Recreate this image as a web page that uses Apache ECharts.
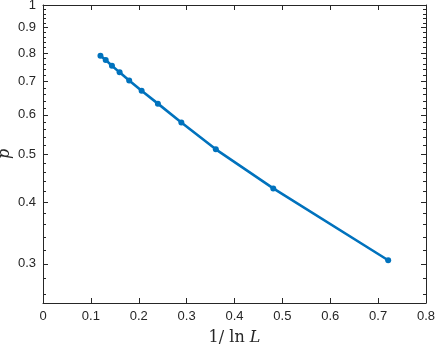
<!DOCTYPE html>
<html>
<head>
<meta charset="utf-8">
<script src="https://cdn.jsdelivr.net/npm/echarts@6/dist/echarts.min.js"></script>
<style>
  html, body { margin: 0; padding: 0; background: #fff; }
  #chart { width: 436px; height: 348px; }
</style>
</head>
<body>
<div id="chart"></div>
<script>
// 1/ln L for L = 4 ... 4096
var invLnL = [0.721, 0.481, 0.361, 0.289, 0.240, 0.206, 0.180, 0.160, 0.144, 0.131, 0.120];
var pValues = [0.305, 0.426, 0.511, 0.579, 0.632, 0.671, 0.704, 0.731, 0.754, 0.774, 0.790];

var yMajorTicks = [0.3, 0.4, 0.5, 0.6, 0.7, 0.8, 0.9, 1];
var yMinorTicks = [0.26, 0.28, 0.32, 0.34, 0.36, 0.38, 0.42, 0.44, 0.46, 0.48,
	0.52, 0.54, 0.56, 0.58, 0.62, 0.64, 0.66, 0.68, 0.72, 0.74, 0.76, 0.78,
	0.82, 0.84, 0.86, 0.88, 0.92, 0.94, 0.96, 0.98];

var axisColor = '#262626';
var lineBlue = '#0072BD';

var chart = echarts.init(document.getElementById('chart'));

function xAxisOf(pos, showLabels) {
	return {
		type: 'value',
		position: pos,
		min: 0,
		max: 0.8,
		interval: 0.1,
		axisLine: {show: true, onZero: false, lineStyle: {color: axisColor, width: 1}},
		axisTick: {show: true, inside: true, length: 5, lineStyle: {color: axisColor}},
		axisLabel: {
			show: showLabels,
			color: axisColor,
			fontFamily: 'Liberation Sans',
			fontSize: 13,
			margin: 7
		},
		splitLine: {show: false},
		name: showLabels ? '{n|1/ ln }{l|L}' : '',
		nameLocation: 'middle',
		nameGap: 27,
		nameMoveOverlap: false,
		nameTextStyle: {
			rich: {
				n: {fontFamily: 'DejaVu Serif', fontSize: 16, color: axisColor},
				l: {fontFamily: 'DejaVu Serif', fontStyle: 'italic', fontSize: 16, color: axisColor}
			}
		}
	};
}

function yAxisOf(pos, ticks, len, showLine, showLabels) {
	return {
		type: 'log',
		logBase: 10,
		position: pos,
		min: 0.25,
		max: 1,
		axisLine: {show: showLine, onZero: false, lineStyle: {color: axisColor, width: 1}},
		axisTick: {show: true, inside: true, length: len, customValues: ticks, lineStyle: {color: axisColor}},
		axisLabel: {
			show: showLabels,
			customValues: ticks,
			color: axisColor,
			fontFamily: 'Liberation Sans',
			fontSize: 13,
			margin: 7
		},
		splitLine: {show: false},
		minorTick: {show: false},
		name: showLabels ? 'p' : '',
		nameLocation: 'middle',
		nameGap: 30,
		nameMoveOverlap: false,
		nameTextStyle: {fontFamily: 'DejaVu Serif', fontStyle: 'italic', fontSize: 16, color: axisColor}
	};
}

chart.setOption({
	animation: false,
	backgroundColor: '#fff',
	grid: {left: 43, right: 10, top: 5, bottom: 45, containLabel: false, outerBoundsMode: 'none'},
	xAxis: [
		xAxisOf('bottom', true),
		xAxisOf('top', false)
	],
	yAxis: [
		yAxisOf('left', yMajorTicks, 5, true, true),
		yAxisOf('left', yMinorTicks, 3, false, false),
		yAxisOf('right', yMajorTicks, 5, true, false),
		yAxisOf('right', yMinorTicks, 3, false, false)
	],
	series: [
		{
			name: 'p',
			type: 'line',
			xAxisIndex: 0,
			yAxisIndex: 0,
			data: invLnL.map(function (x, i) { return [x, pValues[i]]; }),
			symbol: 'circle',
			symbolSize: 6,
			lineStyle: {color: lineBlue, width: 2.6},
			itemStyle: {color: lineBlue},
			z: 3
		}
	]
});
</script>
</body>
</html>
